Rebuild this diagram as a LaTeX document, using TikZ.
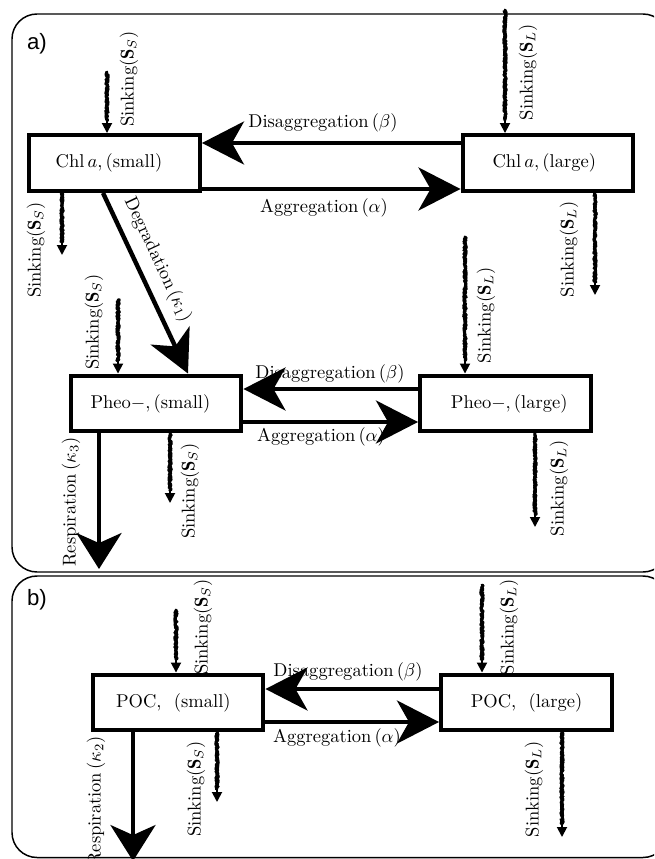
\documentclass[tikz,border=0pt]{standalone}
\usepackage{fontspec}
\newfontfamily\panelfont{Liberation Sans}
\usetikzlibrary{arrows.meta,decorations.pathmorphing,calc}
\begin{document}
\begin{tikzpicture}[x=0.54pt,y=-0.54pt,
  box/.style={draw, fill=white, line width=2.16pt, minimum width=92.3pt, minimum height=30.2pt, inner sep=0pt},
  flow/.style={line width=2.4pt, -{Stealth[length=22.7pt,width=23.2pt,inset=6.5pt]}},
  resp/.style={line width=2.4pt, -{Stealth[length=19.4pt,width=24.3pt,inset=5.4pt]}},
  sink/.style={line width=1pt, -{Triangle[length=5.4pt,width=5.4pt]},
    postaction={draw, -, decorate, line width=1.6pt, line join=round, line cap=round,
      decoration={random steps, segment length=0.45pt, amplitude=0.7pt, post length=7pt, post=moveto}},
    postaction={draw, -, decorate, line width=1.3pt, line join=round, line cap=round,
      decoration={random steps, segment length=0.6pt, amplitude=0.8pt, post length=7pt, post=moveto}}},
  frame/.style={draw, line width=0.8pt, rounded corners=13.5pt},
  lab/.style={inner sep=0pt},
  vlab/.style={inner sep=0pt, rotate=90},
  panel/.style={inner sep=0pt, font=\panelfont\fontsize{12}{14}\selectfont}
]
\pgfmathsetseed{42}
\clip (0,0) rectangle (654,859);
\useasboundingbox (0,0) rectangle (654,859);

% panel frames
\draw[frame] (12,14) rectangle (668,572);
\draw[frame] (12,576) rectangle (668,857.5);
\node[panel] (pa) at (37,44) {a)};
\node[panel] (pb) at (37,600) {b)};

% boxes
\node[box] (chlS) at (114.5,163) {Chl\,$a,$\,(small)\hspace*{6pt}};
\node[box] (chlL) at (548,163) {Chl\,$a,$\,(large)\hspace*{4pt}};
\node[box] (pheoS) at (156,403.5) {Pheo$-,$\,(small)\hspace*{6pt}};
\node[box] (pheoL) at (505.5,403.5) {\hspace*{4pt}Pheo$-,$\,(large)};
\node[box] (pocS) at (178,702.5) {POC,\ \ (small)\hspace*{5pt}};
\node[box] (pocL) at (526.5,702.5) {POC,\ \ (large)};

% aggregation / disaggregation
\draw[flow] ([yshift=10.8pt]chlL.west) -- ([yshift=10.8pt]chlS.east);
\draw[flow] ([yshift=-14.04pt]chlS.east) -- ([yshift=-14.04pt]chlL.west);
\node[lab] (ld1) at (323,123) {Disaggregation$\,(\beta)$};
\node[lab] (la1) at (324,208) {Aggregation$\,(\alpha)$};

\draw[flow] ([yshift=7.83pt]pheoL.west) -- ([yshift=7.83pt]pheoS.east);
\draw[flow] ([yshift=-9.99pt]pheoS.east) -- ([yshift=-9.99pt]pheoL.west);
\node[lab] (ld2) at (330,374) {Disaggregation$\,(\beta)$};
\node[lab] (la2) at (321,437) {Aggregation$\,(\alpha)$};

\draw[flow] ([yshift=7.29pt]pocL.west) -- ([yshift=7.29pt]pocS.east);
\draw[flow] ([yshift=-10.53pt]pocS.east) -- ([yshift=-10.53pt]pocL.west);
\node[lab] (ld3) at (348,672) {Disaggregation$\,(\beta)$};
\node[lab] (la3) at (337,738) {Aggregation$\,(\alpha)$};

% degradation
\draw[flow] ([xshift=-6.21pt]chlS.south) -- node[pos=0.42, above=5pt, sloped, lab]{Degradation$\,(\kappa_1)$} ([xshift=17.28pt]pheoS.north);

% respiration
\coordinate (r1) at (99,569);
\draw[resp] (pheoS.south -| r1) -- (r1);
\node[vlab] (lr1) at (71,502) {Respiration$\,(\kappa_3)$};
\coordinate (r2) at (133,861);
\draw[resp] (pocS.south -| r2) -- (r2);
\node[vlab] (lr2) at (96,801) {Respiration$\,(\kappa_2)$};

% sinking
\coordinate (s1) at (107,72);
\draw[sink] (s1) -- (s1 |- chlS.north);
\node[vlab] at (129,79) {Sinking$(\mathbf{S}_S)$};
\coordinate (s2) at (62,255);
\draw[sink] (s2 |- chlS.south) -- (s2);
\node[vlab] at (36,250) {Sinking$(\mathbf{S}_S)$};
\coordinate (s3) at (505,10);
\draw[sink] (s3) -- (s3 |- chlL.north);
\node[vlab] at (528,72) {Sinking$(\mathbf{S}_L)$};
\coordinate (s4) at (595,295);
\draw[sink] (s4 |- chlL.south) -- (s4);
\node[vlab] at (569,249) {Sinking$(\mathbf{S}_L)$};

\coordinate (s5) at (118,300);
\draw[sink] (s5) -- (s5 |- pheoS.north);
\node[vlab] at (94,322) {Sinking$(\mathbf{S}_S)$};
\coordinate (s6) at (170,503);
\draw[sink] (s6 |- pheoS.south) -- (s6);
\node[vlab] at (190,491) {Sinking$(\mathbf{S}_S)$};
\coordinate (s7) at (465,237);
\draw[sink] (s7) -- (s7 |- pheoL.north);
\node[vlab] at (486,315) {Sinking$(\mathbf{S}_L)$};
\coordinate (s8) at (535,527);
\draw[sink] (s8 |- pheoL.south) -- (s8);
\node[vlab] at (559,488) {Sinking$(\mathbf{S}_L)$};

\coordinate (s9) at (176,610);
\draw[sink] (s9) -- (s9 |- pocS.north);
\node[vlab] at (203,627) {Sinking$(\mathbf{S}_S)$};
\coordinate (s10) at (217,802);
\draw[sink] (s10 |- pocS.south) -- (s10);
\node[vlab] at (196,789) {Sinking$(\mathbf{S}_S)$};
\coordinate (s11) at (482,585);
\draw[sink] (s11) -- (s11 |- pocL.north);
\node[vlab] at (509,627) {Sinking$(\mathbf{S}_L)$};
\coordinate (s12) at (562,837);
\draw[sink] (s12 |- pocL.south) -- (s12);
\node[vlab] at (534,789) {Sinking$(\mathbf{S}_L)$};
\end{tikzpicture}
\end{document}
